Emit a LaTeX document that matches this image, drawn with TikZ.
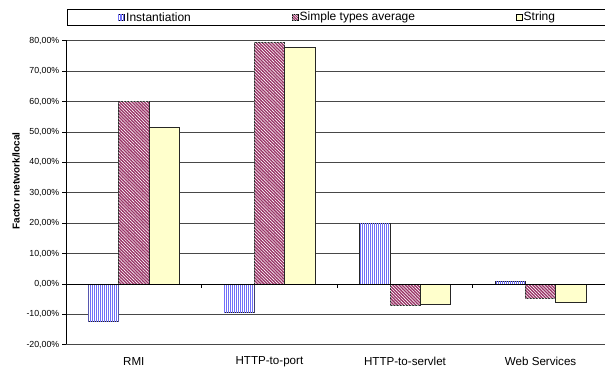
\documentclass[tikz,border=0pt]{standalone}
\usepackage{fontspec}
\setmainfont{Liberation Sans}
\usetikzlibrary{patterns.meta}
\definecolor{instblue}{HTML}{7070F8}
\definecolor{simplered}{HTML}{993366}
\definecolor{stringyellow}{HTML}{FFFFCC}
\tikzset{
  gridline/.style={draw=black!72, line width=0.7pt},
  axisline/.style={draw=black, line width=0.8pt},
  barline/.style={draw=black!85, line width=0.7pt},
  instbar/.style={barline, fill=white,
    postaction={pattern={Lines[angle=90,distance=2pt,line width=0.9pt]}, pattern color=instblue}},
  simplebar/.style={barline, fill=simplered,
    postaction={pattern={Lines[angle=-45,distance=2.2pt,line width=0.6pt]}, pattern color=white}},
  stringbar/.style={barline, fill=stringyellow},
  ticklabel/.style={font=\fontsize{8.8}{10}\selectfont, anchor=east, inner sep=0pt},
  catlabel/.style={font=\fontsize{11.6}{13}\selectfont, inner sep=0pt},
  legtext/.style={font=\fontsize{12}{14}\selectfont, anchor=west, inner sep=0pt},
  legmark/.style={line width=0.6pt},
}
\begin{document}
\begin{tikzpicture}[x=1pt,y=-1pt]
\useasboundingbox (0,0) rectangle (605,373);
\clip (0,0) rectangle (605,373);
% gridlines
\foreach \v in {-20,-10,10,20,30,40,50,60,70,80}{
  \draw[gridline] (66,{284-3.04*(\v)}) -- (610,{284-3.04*(\v)});
}
% tick labels
\foreach \v/\t in {80/80,70/70,60/60,50/50,40/40,30/30,20/20,10/10,0/0,-10/-10,-20/-20}{
  \node[ticklabel] (tl\v) at (59.5,{284-3.04*(\v)}) {\t,00\%};
  \draw[axisline] (62,{284-3.04*(\v)}) -- (66,{284-3.04*(\v)});
}
% bars
\foreach \c/\a/\b/\s in {0/-12.4/60.2/51.5, 1/-9.3/79.5/78.0, 2/20.0/-7.0/-6.7, 3/0.9/-4.7/-6.1}{
  \pgfmathsetmacro\xs{66+135.6*\c+22.35}
  \draw[instbar] (\xs,284) rectangle ({\xs+30.3},{284-3.04*(\a)});
  \draw[simplebar] ({\xs+30.3},284) rectangle ({\xs+60.6},{284-3.04*(\b)});
  \draw[stringbar] ({\xs+60.6},284) rectangle ({\xs+90.9},{284-3.04*(\s)});
}
% axes
\draw[axisline] (66,40) -- (66,344);
\draw[axisline] (66,284) -- (610,284);
\foreach \k in {1,2,3}{
  \draw[axisline] ({66+135.6*\k},284) -- ({66+135.6*\k},288);
}
% category labels
\node[catlabel] (c1) at (133.8,361.5) {RMI};
\node[catlabel] (c2) at (269.4,361.5) {HTTP-to-port};
\node[catlabel] (c3) at (405,361.5) {HTTP-to-servlet};
\node[catlabel] (c4) at (540.6,361.5) {Web Services};
% axis title
\node[font=\bfseries\fontsize{10}{12}\selectfont, rotate=90, inner sep=0pt] (ytitle) at (16,181) {Factor network/local};
% legend
\draw[line width=0.8pt] (67,9) rectangle (612,25.5);
\draw[legmark, fill=white, postaction={pattern={Lines[angle=90,distance=1.6pt,line width=0.7pt]}, pattern color=instblue}] (118,14) rectangle (124,20.5);
\node[legtext] (l1) at (126,17.5) {Instantiation};
\draw[legmark, fill=simplered, postaction={pattern={Lines[angle=-45,distance=1.8pt,line width=0.5pt]}, pattern color=white}] (292,14) rectangle (298,20.5);
\node[legtext] (l2) at (299.5,17.5) {Simple types average};
\draw[legmark, fill=stringyellow] (516,14) rectangle (522,20.5);
\node[legtext] (l3) at (523.5,17.5) {String};
\end{tikzpicture}
\end{document}
